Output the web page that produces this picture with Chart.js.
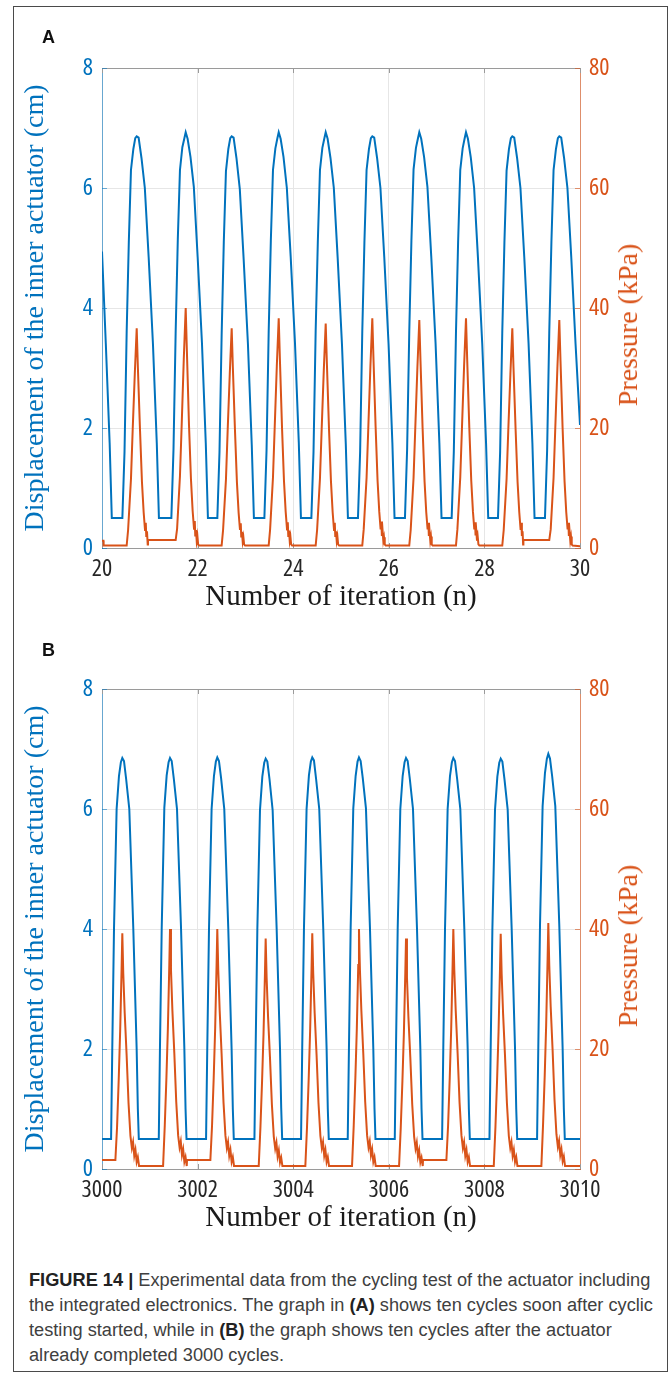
<!DOCTYPE html>
<html><head><meta charset="utf-8">
<script src="https://cdn.jsdelivr.net/npm/chart.js@4.4.1/dist/chart.umd.min.js"></script>
<style>
html,body{margin:0;padding:0;background:#fff;}
body{width:672px;height:1376px;position:relative;overflow:hidden;}
#frame{position:absolute;left:13px;top:6px;width:653px;height:1364px;border:1px solid #4a4a4a;}
canvas{position:absolute;left:0;}
#cA{top:0}
#cB{top:621px}
.panel{position:absolute;left:42px;font:bold 18px 'Liberation Sans',Arial,sans-serif;line-height:18px;color:#111;}
.ylab2{position:absolute;font:28px 'Liberation Serif','Times New Roman',serif;color:#D95319;white-space:nowrap;transform:translate(-50%,-50%) rotate(-90deg);}
.cap{position:absolute;left:29px;top:1268px;font:16.5px 'Liberation Sans',Arial,sans-serif;line-height:25px;color:#404040;white-space:nowrap;}
.cap b{font-weight:700;color:#222}
</style></head><body>
<div id="frame"></div>
<canvas id="cA" width="672" height="620"></canvas>
<canvas id="cB" width="672" height="620"></canvas>
<div class="panel" style="top:28px">A</div>
<div class="panel" style="top:641px">B</div>
<div class="ylab2" style="left:628px;top:325px">Pressure (kPa)</div>
<div class="ylab2" style="left:628px;top:946px">Pressure (kPa)</div>
<div class="cap" id="cap"><span id="l1"><b>FIGURE 14 |</b> Experimental data from the cycling test of the actuator including</span><br>the integrated electronics. The graph in <b>(A)</b> shows ten cycles soon after cyclic<br>testing started, while in <b>(B)</b> the graph shows ten cycles after the actuator<br>already completed 3000 cycles.</div>
<script>
const xTicksA = [20, 22, 24, 26, 28, 30];
const xTicksB = [3000, 3002, 3004, 3006, 3008, 3010];
const dispTicks = [0, 2, 4, 6, 8];
const presTicks = [0, 20, 40, 60, 80];

const iterA_disp = [
20.000,20.080,20.160,20.205,
20.426,20.471,20.516,20.561,20.606,20.656,20.696,20.726,20.766,20.826,20.896,20.976,21.066,21.146,21.191,
21.451,21.496,21.541,21.586,21.631,21.681,21.721,21.751,21.791,21.851,21.921,22.001,22.091,22.171,22.216,
22.413,22.458,22.503,22.548,22.593,22.643,22.683,22.713,22.753,22.813,22.883,22.963,23.053,23.133,23.178,
23.397,23.442,23.487,23.532,23.577,23.627,23.667,23.697,23.737,23.797,23.867,23.947,24.037,24.117,24.162,
24.380,24.425,24.470,24.515,24.560,24.610,24.650,24.680,24.720,24.780,24.850,24.930,25.020,25.100,25.145,
25.355,25.400,25.445,25.490,25.535,25.585,25.625,25.655,25.695,25.755,25.825,25.905,25.995,26.075,26.120,
26.338,26.383,26.428,26.473,26.518,26.568,26.608,26.638,26.678,26.738,26.808,26.888,26.978,27.058,27.103,
27.315,27.360,27.405,27.450,27.495,27.545,27.585,27.615,27.655,27.715,27.785,27.865,27.955,28.035,28.080,
28.284,28.329,28.374,28.419,28.464,28.514,28.554,28.584,28.624,28.684,28.754,28.834,28.924,29.004,29.049,
29.267,29.312,29.357,29.402,29.447,29.497,29.537,29.567,29.607,29.667,29.737,29.817,29.907,30.000];
const dispA = [
4.94,3.40,1.75,0.50,
0.50,1.60,3.60,5.10,6.30,6.65,6.83,6.86,6.84,6.50,6.00,4.85,3.40,1.75,0.50,
0.50,1.65,3.60,5.15,6.30,6.68,6.82,6.93,6.82,6.52,6.02,4.85,3.42,1.75,0.50,
0.50,1.60,3.55,5.10,6.28,6.65,6.83,6.86,6.84,6.50,5.98,4.82,3.40,1.72,0.50,
0.50,1.62,3.60,5.12,6.30,6.66,6.82,6.93,6.82,6.52,6.00,4.86,3.42,1.76,0.50,
0.50,1.60,3.62,5.10,6.30,6.67,6.82,6.93,6.82,6.50,6.00,4.84,3.40,1.74,0.50,
0.50,1.60,3.60,5.10,6.30,6.65,6.83,6.86,6.84,6.50,6.00,4.85,3.40,1.75,0.50,
0.50,1.64,3.60,5.12,6.31,6.67,6.82,6.93,6.82,6.52,6.02,4.86,3.42,1.75,0.50,
0.50,1.60,3.58,5.10,6.30,6.66,6.82,6.93,6.82,6.51,6.00,4.84,3.40,1.74,0.50,
0.50,1.60,3.60,5.10,6.29,6.65,6.83,6.86,6.84,6.50,6.00,4.85,3.41,1.75,0.50,
0.50,1.62,3.60,5.10,6.30,6.65,6.83,6.86,6.84,6.50,6.00,4.85,3.40,2.05];

const iterA_pres = [
20.000,20.030,20.034,
20.516,20.546,20.606,20.642,20.686,20.726,20.751,20.795,20.836,20.871,20.900,20.916,20.926,20.941,20.956,20.962,
21.541,21.571,21.631,21.667,21.711,21.751,21.776,21.820,21.861,21.896,21.925,21.941,21.951,21.966,21.981,21.996,22.011,22.031,
22.503,22.533,22.593,22.629,22.673,22.713,22.738,22.782,22.823,22.858,22.887,22.903,22.913,22.928,22.943,22.958,22.973,22.993,
23.487,23.517,23.577,23.613,23.657,23.697,23.722,23.766,23.807,23.842,23.871,23.887,23.897,23.912,23.927,23.942,23.957,23.977,
24.470,24.500,24.560,24.596,24.640,24.680,24.705,24.749,24.790,24.825,24.854,24.870,24.880,24.895,24.910,24.925,24.940,24.960,
25.445,25.475,25.535,25.571,25.615,25.655,25.680,25.724,25.765,25.800,25.829,25.845,25.855,25.870,25.885,25.900,25.915,25.935,
26.428,26.458,26.518,26.554,26.598,26.638,26.663,26.707,26.748,26.783,26.812,26.828,26.838,26.853,26.868,26.883,26.898,26.918,
27.405,27.435,27.495,27.531,27.575,27.615,27.640,27.684,27.725,27.760,27.789,27.805,27.815,27.830,27.845,27.860,27.875,27.895,
28.374,28.404,28.464,28.500,28.544,28.584,28.609,28.653,28.694,28.729,28.758,28.774,28.784,28.799,28.810,28.816,
29.357,29.387,29.447,29.483,29.527,29.567,29.592,29.636,29.677,29.712,29.741,29.757,29.767,29.782,29.797,29.812,29.827,29.847,30.000];
const presA = [
1.2,1.2,0.4,
0.4,3.0,11.5,19.7,29.0,36.6,30.0,19.7,11.0,6.0,3.0,4.2,2.0,2.8,0.6,1.33,
1.33,3.2,12.0,20.5,31.5,40.0,32.8,20.5,11.5,6.2,3.2,4.5,2.1,3.0,1.2,2.0,0.6,0.4,
0.4,3.0,11.4,19.6,29.0,36.6,30.0,19.6,10.9,5.9,3.0,4.1,1.9,2.7,1.1,1.8,0.6,0.4,
0.4,3.1,11.8,20.1,30.3,38.3,31.4,20.1,11.2,6.1,3.1,4.3,2.0,2.9,1.2,1.9,0.6,0.4,
0.4,3.0,11.6,19.9,29.6,37.4,30.7,19.9,11.1,6.0,3.0,4.2,2.0,2.8,1.2,1.9,0.6,0.4,
0.4,3.1,11.7,20.0,30.2,38.3,31.4,20.2,11.2,6.1,3.1,4.4,2.0,2.9,1.2,1.8,0.6,0.4,
0.4,3.0,11.7,20.0,30.0,38.0,31.2,20.0,11.1,6.0,3.1,4.2,2.0,2.8,1.2,1.9,0.6,0.4,
0.4,3.1,11.8,20.1,30.3,38.3,31.4,20.1,11.2,6.1,3.1,4.3,2.1,2.9,1.2,1.9,0.6,0.4,
0.4,3.0,11.5,19.7,29.0,36.6,30.0,19.7,11.0,6.0,3.0,4.2,2.0,2.8,0.6,1.33,
1.33,3.1,11.7,20.0,30.0,38.0,31.2,20.0,11.1,6.0,3.1,4.2,2.0,2.8,1.2,1.9,0.6,0.4,0.3];

const iterB_disp = [
3000.000,
3000.190,3000.215,3000.251,3000.306,3000.355,3000.395,3000.425,3000.460,3000.505,3000.571,3000.655,3000.725,3000.750,3000.770,
3001.188,3001.213,3001.249,3001.304,3001.353,3001.393,3001.423,3001.458,3001.503,3001.569,3001.653,3001.723,3001.748,3001.768,
3002.177,3002.202,3002.238,3002.293,3002.342,3002.382,3002.412,3002.447,3002.492,3002.558,3002.642,3002.712,3002.737,3002.757,
3003.189,3003.214,3003.250,3003.305,3003.354,3003.394,3003.424,3003.459,3003.504,3003.570,3003.654,3003.724,3003.749,3003.769,
3004.164,3004.189,3004.225,3004.280,3004.329,3004.369,3004.399,3004.434,3004.479,3004.545,3004.629,3004.699,3004.724,3004.744,
3005.141,3005.166,3005.202,3005.257,3005.306,3005.346,3005.376,3005.411,3005.456,3005.522,3005.606,3005.676,3005.701,3005.721,
3006.125,3006.150,3006.186,3006.241,3006.290,3006.330,3006.360,3006.395,3006.440,3006.506,3006.590,3006.660,3006.685,3006.705,
3007.115,3007.140,3007.176,3007.231,3007.280,3007.320,3007.350,3007.385,3007.430,3007.496,3007.580,3007.650,3007.675,3007.695,
3008.106,3008.131,3008.167,3008.222,3008.271,3008.311,3008.341,3008.376,3008.421,3008.487,3008.571,3008.641,3008.666,3008.686,
3009.102,3009.127,3009.163,3009.218,3009.267,3009.307,3009.337,3009.372,3009.417,3009.483,3009.567,3009.637,3009.662,3009.682,
3010.000];
const dispB = [
0.50,
0.50,2.00,4.00,6.00,6.55,6.78,6.85,6.80,6.50,6.00,4.00,2.00,1.00,0.50,
0.50,2.05,4.00,6.02,6.56,6.78,6.85,6.80,6.50,6.00,4.02,2.00,1.00,0.50,
0.50,2.00,3.98,6.00,6.55,6.79,6.86,6.80,6.51,6.00,4.00,1.98,1.00,0.50,
0.50,2.00,4.00,5.98,6.54,6.77,6.84,6.79,6.50,5.98,4.00,2.00,1.02,0.50,
0.50,2.02,4.00,6.00,6.56,6.79,6.86,6.81,6.50,6.00,4.00,2.00,1.00,0.50,
0.50,2.00,4.02,6.01,6.55,6.79,6.86,6.80,6.51,6.01,4.01,2.00,1.00,0.50,
0.50,2.00,4.00,6.00,6.55,6.78,6.85,6.80,6.50,6.00,4.00,2.00,1.00,0.50,
0.50,2.01,4.00,6.00,6.55,6.78,6.85,6.80,6.50,6.00,4.00,2.01,1.00,0.50,
0.50,2.00,3.99,5.99,6.54,6.77,6.84,6.79,6.49,5.99,3.99,2.00,1.00,0.50,
0.50,2.00,4.05,6.05,6.60,6.84,6.92,6.84,6.55,6.05,4.05,2.00,1.00,0.50,
0.50];

const iterB_pres = [
3000.000,
3000.280,3000.315,3000.350,3000.380,3000.410,3000.425,3000.445,3000.475,3000.515,3000.555,3000.595,3000.625,3000.650,3000.675,3000.700,3000.725,3000.750,3000.775,
3001.278,3001.313,3001.348,3001.378,3001.408,3001.423,3001.443,3001.473,3001.513,3001.553,3001.593,3001.623,3001.648,3001.673,3001.698,3001.723,3001.748,3001.773,3001.779,
3002.267,3002.302,3002.337,3002.367,3002.397,3002.412,3002.432,3002.462,3002.502,3002.542,3002.582,3002.612,3002.637,3002.662,3002.687,3002.712,3002.737,3002.762,
3003.279,3003.314,3003.349,3003.379,3003.409,3003.424,3003.444,3003.474,3003.514,3003.554,3003.594,3003.624,3003.649,3003.674,3003.699,3003.724,3003.749,3003.774,
3004.254,3004.289,3004.324,3004.354,3004.384,3004.399,3004.419,3004.449,3004.489,3004.529,3004.569,3004.599,3004.624,3004.649,3004.674,3004.699,3004.724,3004.749,
3005.231,3005.266,3005.301,3005.331,3005.361,3005.376,3005.396,3005.426,3005.466,3005.506,3005.546,3005.576,3005.601,3005.626,3005.651,3005.676,3005.701,3005.726,
3006.215,3006.250,3006.285,3006.315,3006.345,3006.360,3006.380,3006.410,3006.450,3006.490,3006.530,3006.560,3006.585,3006.610,3006.635,3006.660,3006.685,3006.710,3006.716,
3007.205,3007.240,3007.275,3007.305,3007.335,3007.350,3007.370,3007.400,3007.440,3007.480,3007.520,3007.550,3007.575,3007.600,3007.625,3007.650,3007.675,3007.700,
3008.196,3008.231,3008.266,3008.296,3008.326,3008.341,3008.361,3008.391,3008.431,3008.471,3008.511,3008.541,3008.566,3008.591,3008.616,3008.641,3008.666,3008.691,
3009.192,3009.227,3009.262,3009.292,3009.322,3009.337,3009.357,3009.387,3009.427,3009.467,3009.507,3009.537,3009.562,3009.587,3009.612,3009.637,3009.662,3009.687,
3010.000];
const presB = [
1.5,
1.5,7.0,15.0,23.0,33.4,39.3,32.6,26.0,19.0,11.0,5.5,3.5,4.5,2.2,3.2,1.2,2.0,0.5,
0.5,7.2,15.3,23.4,34.0,40.0,33.2,26.4,19.3,11.2,5.6,3.6,4.6,2.3,3.3,1.2,2.0,0.5,1.5,
1.5,7.2,15.2,23.3,34.0,40.0,33.2,26.4,19.2,11.1,5.6,3.5,4.5,2.2,3.2,1.2,2.0,0.5,
0.5,6.9,14.7,22.5,32.6,38.4,31.9,25.4,18.6,10.8,5.4,3.4,4.4,2.1,3.1,1.1,1.9,0.5,
0.5,7.0,15.0,23.0,33.4,39.3,32.6,26.0,19.0,11.0,5.5,3.5,4.5,2.2,3.2,1.2,2.0,0.5,
0.5,7.2,15.3,23.4,34.0,40.0,33.2,26.4,19.3,11.2,5.6,3.6,4.6,2.3,3.3,1.2,2.0,0.5,
0.5,6.9,14.7,22.5,32.6,38.4,31.9,25.4,18.6,10.8,5.4,3.4,4.4,2.1,3.1,1.1,1.9,0.5,1.5,
1.5,7.2,15.2,23.3,34.0,40.0,33.2,26.4,19.2,11.1,5.6,3.5,4.5,2.2,3.2,1.2,2.0,0.5,
0.5,7.0,15.0,22.9,33.3,39.2,32.5,25.9,18.9,11.0,5.5,3.5,4.5,2.2,3.2,1.2,2.0,0.5,
0.5,7.4,15.6,24.0,34.9,41.0,34.0,27.0,19.8,11.5,5.8,3.7,4.7,2.3,3.3,1.3,2.1,0.5,
0.5];

const BLUE = '#0072BD', ORANGE = '#D95319';
const BLUE_AX = 'rgba(0,114,189,0.55)', ORANGE_AX = 'rgba(217,83,25,0.6)', GRAY_AX = '#9a9a9a';

function pickTickFont() {
  const c = document.createElement('canvas').getContext('2d');
  const w = f => { c.font = f; return c.measureText('3000').width; };
  const mono = w('100px monospace');
  const cands = [
    {weight: 'normal', family: "'Liberation Sans Narrow'"},
    {weight: 'condensed', family: "'Noto Sans'"},
    {weight: 'condensed', family: "'Open Sans'"},
    {weight: 'normal', family: "'DejaVu Sans Condensed'"},
    {weight: 'condensed', family: "'DejaVu Sans'"},
    {weight: 'normal', family: "'Roboto Condensed'"}
  ];
  for (const cd of cands) {
    const ww = w(cd.weight + ' 100px ' + cd.family + ', monospace');
    if (Math.abs(ww - mono) > 1 && ww < 200) {
      return {family: cd.family + ", 'Liberation Sans', sans-serif", weight: cd.weight, size: 24};
    }
  }
  return {family: "'Liberation Sans', Arial, sans-serif", size: 20};
}
const tickFont = pickTickFont();
const titleFont = {family: "'Liberation Serif','Times New Roman',serif", size: 29};
const yTitleFont = {family: "'Liberation Serif','Times New Roman',serif", size: 28};

function pts(xs, ys) { return xs.map((x, i) => ({x: x, y: ys[i]})); }

const frameTicks = {
  id: 'frameTicks',
  beforeDatasetsDraw(chart) {
    const {ctx, chartArea: a, scales} = chart;
    const x = scales.x, y = scales.y, y1 = scales.y1;
    ctx.save();
    ctx.lineWidth = 1;
    ctx.strokeStyle = GRAY_AX;
    ctx.beginPath();
    ctx.moveTo(a.left, Math.round(a.top) + 0.5); ctx.lineTo(a.right, Math.round(a.top) + 0.5);
    x.ticks.forEach(t => {
      const px = Math.round(x.getPixelForValue(t.value)) + 0.5;
      ctx.moveTo(px, a.bottom); ctx.lineTo(px, a.bottom - 5);
      ctx.moveTo(px, a.top); ctx.lineTo(px, a.top + 5);
    });
    ctx.stroke();
    ctx.strokeStyle = BLUE_AX;
    ctx.beginPath();
    y.ticks.forEach(t => {
      const py = Math.round(y.getPixelForValue(t.value)) + 0.5;
      ctx.moveTo(a.left, py); ctx.lineTo(a.left + 5, py);
    });
    ctx.stroke();
    ctx.strokeStyle = ORANGE_AX;
    ctx.beginPath();
    y1.ticks.forEach(t => {
      const py = Math.round(y1.getPixelForValue(t.value)) + 0.5;
      ctx.moveTo(a.right, py); ctx.lineTo(a.right - 5, py);
    });
    ctx.stroke();
    ctx.restore();
  }
};

function makeChart(id, xTicks, xd, yd, xp, yp) {
  return new Chart(document.getElementById(id), {
    type: 'line',
    data: {datasets: [
      {label: 'Pressure (kPa)', data: pts(xp, yp), yAxisID: 'y1', borderColor: ORANGE, borderWidth: 2,
       pointRadius: 0, tension: 0, fill: false, order: 0},
      {label: 'Displacement (cm)', data: pts(xd, yd), yAxisID: 'y', borderColor: BLUE, borderWidth: 2,
       pointRadius: 0, tension: 0, fill: false, order: 1}
    ]},
    options: {
      responsive: false, animation: false, devicePixelRatio: 1, parsing: false,
      layout: {padding: {left: 0, right: 0, top: 68, bottom: 0}},
      plugins: {legend: {display: false}, tooltip: {enabled: false}},
      scales: {
        x: {type: 'linear', position: 'bottom', min: xTicks[0], max: xTicks[xTicks.length - 1],
          afterBuildTicks: s => { s.ticks = xTicks.map(v => ({value: v})); },
          afterFit: s => { s.height = 72; },
          ticks: {callback: v => String(v), font: tickFont, color: '#262626', padding: 7, maxRotation: 0, autoSkip: false},
          grid: {color: '#e6e6e6', drawTicks: false, lineWidth: 1},
          border: {color: GRAY_AX, width: 1},
          title: {display: true, text: 'Number of iteration (n)', font: titleFont, color: '#1a1a1a', padding: {top: 0, bottom: 5}}},
        y: {type: 'linear', position: 'left', min: dispTicks[0], max: dispTicks[dispTicks.length - 1],
          afterBuildTicks: s => { s.ticks = dispTicks.map(v => ({value: v})); },
          afterFit: s => { s.width = 102; },
          ticks: {callback: v => String(v), font: tickFont, color: BLUE, padding: 9},
          grid: {color: '#e6e6e6', drawTicks: false, lineWidth: 1},
          border: {color: BLUE_AX, width: 1},
          title: {display: true, text: 'Displacement of the inner actuator (cm)', font: yTitleFont, color: BLUE, padding: {top: 19, bottom: 0}}},
        y1: {type: 'linear', position: 'right', min: presTicks[0], max: presTicks[presTicks.length - 1],
          afterBuildTicks: s => { s.ticks = presTicks.map(v => ({value: v})); },
          afterFit: s => { s.width = 92; },
          ticks: {callback: v => String(v), font: tickFont, color: ORANGE, padding: 9},
          grid: {drawOnChartArea: false, drawTicks: false},
          border: {color: ORANGE_AX, width: 1}}
      }
    },
    plugins: [frameTicks]
  });
}

makeChart('cA', xTicksA, iterA_disp, dispA, iterA_pres, presA);
makeChart('cB', xTicksB, iterB_disp, dispB, iterB_pres, presB);

// fit caption so its first line spans the same width as in the figure
(function () {
  const cap = document.getElementById('cap');
  const l1 = document.getElementById('l1');
  const target = 622;
  const w = l1.getBoundingClientRect().width;
  if (w > 0) cap.style.fontSize = (16.5 * target / w).toFixed(2) + 'px';
})();
</script>
</body></html>
